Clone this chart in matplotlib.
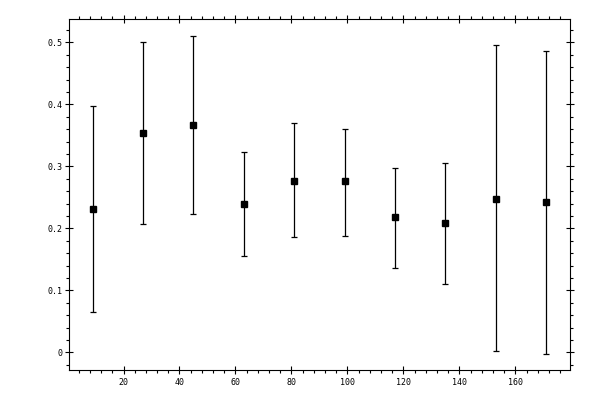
import numpy as np
import matplotlib
matplotlib.use('Agg')
import matplotlib.pyplot as plt
from matplotlib.ticker import MultipleLocator, FixedFormatter, FixedLocator

# measured points with their error bar ends
xs = [9, 27, 45, 63, 81, 99, 117, 135, 153, 171]
ys = [0.232, 0.354, 0.367, 0.240, 0.277, 0.276, 0.218, 0.208, 0.248, 0.243]
y_top = [0.397, 0.501, 0.511, 0.323, 0.370, 0.361, 0.298, 0.305, 0.496, 0.486]
y_bot = [0.065, 0.207, 0.223, 0.155, 0.186, 0.188, 0.136, 0.110, 0.002, -0.002]

xticks = [20, 40, 60, 80, 100, 120, 140, 160]
yticks = [0, 0.1, 0.2, 0.3, 0.4, 0.5]
ytick_labels = ['0', '0.1', '0.2', '0.3', '0.4', '0.5']

ys = np.array(ys)
err = [ys - np.array(y_bot), np.array(y_top) - ys]

fig = plt.figure(figsize=(6, 4), dpi=100)
ax = fig.add_axes([0.1158, 0.075, 0.8347, 0.877])

ax.errorbar(xs, ys, yerr=err, fmt='s', color='black', ms=5, elinewidth=0.9,
            capsize=1.9, capthick=0.9)

ax.set_xlim(0.7, 179.6)
ax.set_ylim(-0.0285, 0.5375)

ax.xaxis.set_major_locator(FixedLocator(xticks))
ax.xaxis.set_minor_locator(MultipleLocator(4))
ax.yaxis.set_major_locator(FixedLocator(yticks))
ax.yaxis.set_major_formatter(FixedFormatter(ytick_labels))
ax.yaxis.set_minor_locator(MultipleLocator(0.02))

for s in ax.spines.values():
    s.set_linewidth(0.8)

ax.tick_params(which='major', direction='inout', length=5.8, width=0.8,
               top=True, right=True, labelsize=6, pad=2)
ax.tick_params(which='minor', direction='out', length=2.2, width=0.8,
               top=True, right=True)
ax.tick_params(axis='x', which='major', pad=3)

for lab in ax.get_xticklabels() + ax.get_yticklabels():
    lab.set_family('DejaVu Sans Mono')

fig.savefig('out.png', dpi=100)
